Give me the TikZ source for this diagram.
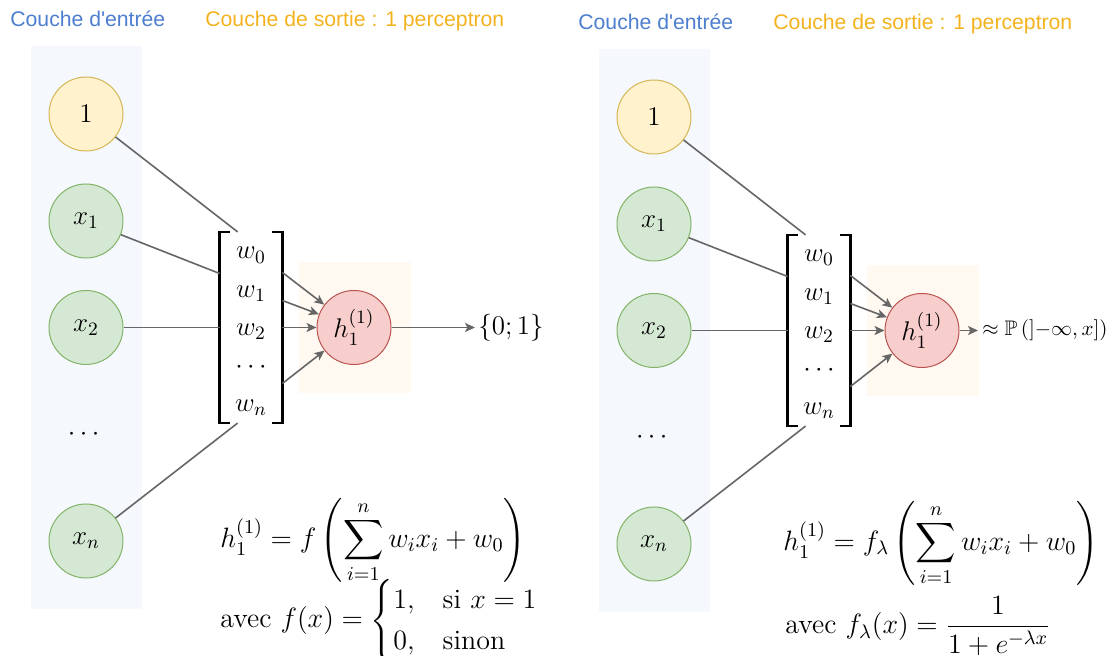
\RequirePackage{fix-cm}
\documentclass[tikz,border=0pt,12pt]{standalone}
\usepackage{fontspec}
\usepackage{amsmath,amssymb}
\usetikzlibrary{calc,arrows.meta}
\newfontfamily\titlefont{Liberation Sans}
\definecolor{inblue}{HTML}{4D7ECF}
\definecolor{outorange}{HTML}{F4B31E}
\definecolor{colbg}{HTML}{F5F9FE}
\definecolor{outbg}{HTML}{FFF9F2}
\definecolor{edgegray}{HTML}{666666}
\definecolor{biasfill}{HTML}{FFF2CC}
\definecolor{biasline}{HTML}{D6B656}
\definecolor{infill}{HTML}{D5E8D4}
\definecolor{inline}{HTML}{82B366}
\definecolor{hfill}{HTML}{F8CECC}
\definecolor{hline}{HTML}{B85450}
\tikzset{
  layertitle/.style={anchor=base west,inner sep=0pt,font=\titlefont\fontsize{10.6}{12.7}\selectfont},
  neuron/.style={circle,minimum size=37pt,inner sep=0pt,line width=0.5pt,font=\fontsize{13.5}{16}\selectfont},
  biasnode/.style={neuron,fill=biasfill,draw=biasline},
  innode/.style={neuron,fill=infill,draw=inline},
  hnode/.style={neuron,fill=hfill,draw=hline},
  wts/.style={minimum width=31pt,minimum height=92.5pt,inner sep=0pt,font=\fontsize{13.5}{16}\selectfont},
  brk/.style={line width=1.3pt},
  edge/.style={draw=edgegray,line width=0.8pt},
  arr/.style={edge,-{Stealth[length=5pt,width=4.5pt,inset=1.2pt]}},
  formula/.style={anchor=west,inner sep=0pt,font=\fontsize{14}{17}\selectfont}
}
\newcommand{\weightcol}{{\renewcommand{\arraystretch}{1.19}%
  $\begin{array}{c} w_0\\ w_1\\ w_2\\ \cdots\\ w_n \end{array}$}}
\newcommand{\perceptronpanel}[3]{%
  \begin{scope}[shift={(#2,#3)}]
    \fill[colbg] (31,46) rectangle (142,609);
    \fill[outbg] (299,262) rectangle (411,393);
    \node[layertitle,text=inblue] (#1tin) at (10,27) {Couche d'entrée};
    \node[layertitle,text=outorange] (#1tout) at (205,27) {Couche de sortie : 1 perceptron};
    \node[biasnode] (#1one) at (86,114) {$1$};
    \node[innode] (#1xa) at (86,221) {$x_1$};
    \node[innode] (#1xb) at (86,327.5) {$x_2$};
    \node[font=\fontsize{13.5}{16}\selectfont] (#1dots) at (86,435) {$\cdots$};
    \node[innode] (#1xn) at (86,541) {$x_n$};
    \node[wts] (#1w) at (251,327.5) {\weightcol};
    \draw[brk] ($(#1w.north west)+(10,0)$) -| (#1w.south west) -- ++(10,0);
    \draw[brk] ($(#1w.north east)+(-10,0)$) -| (#1w.south east) -- ++(-10,0);
    \node[hnode] (#1h) at (354,327.5) {$h_1^{(1)}$};
    \draw[edge] (#1one) -- ($(#1w.north west)+(18,0)$);
    \draw[edge] (#1xa) -- ($(#1w.west)+(0,-54)$);
    \draw[edge] (#1xb) -- (#1w.west);
    \draw[edge] (#1xn) -- ($(#1w.south west)+(18,0)$);
    \draw[arr] ($(#1w.east)+(0,-55)$) -- (#1h);
    \draw[arr] ($(#1w.east)+(0,-27)$) -- (#1h);
    \draw[arr] (#1w.east) -- (#1h);
    \draw[arr] ($(#1w.east)+(0,56)$) -- (#1h);
  \end{scope}}

\begin{document}
\begin{tikzpicture}[x=0.5pt,y=-0.5pt]
  \useasboundingbox (0,0) rectangle (1114,656);
  \fill[white] (0,0) rectangle (1114,656);
  \perceptronpanel{L}{0}{0}
  \perceptronpanel{R}{568}{3}

  \node[formula,font=\fontsize{13.5}{16}\selectfont] (Lout) at (478,327.5) {$\{0;1\}$};
  \draw[arr] (Lh) -- ($(Lout.west)+(-3,0)$);
  \node[formula] (Lhdef) at (220,541) {$\displaystyle h_1^{(1)} = f\left(\sum_{i=1}^{n} w_i x_i + w_0\right)$};
  \node[formula] (Lfdef) at (220,621) {$\text{avec } f(x) = \begin{cases} 1, & \text{si } x = 1\\ 0, & \text{sinon} \end{cases}$};

  \node[formula,font=\fontsize{10.5}{12.5}\selectfont] (Rout) at (982,330.5) {$\approx \mathbb{P}\left(\left]-\infty, x\right]\right)$};
  \draw[arr] (Rh) -- ($(Rout.west)+(-4,0)$);
  \node[formula] (Rhdef) at (783,544) {$\displaystyle h_1^{(1)} = f_\lambda\left(\sum_{i=1}^{n} w_i x_i + w_0\right)$};
  \node[formula] (Rfdef) at (785,626) {$\text{avec } f_\lambda(x) = \dfrac{1}{1+e^{-\lambda x}}$};
\end{tikzpicture}
\end{document}
